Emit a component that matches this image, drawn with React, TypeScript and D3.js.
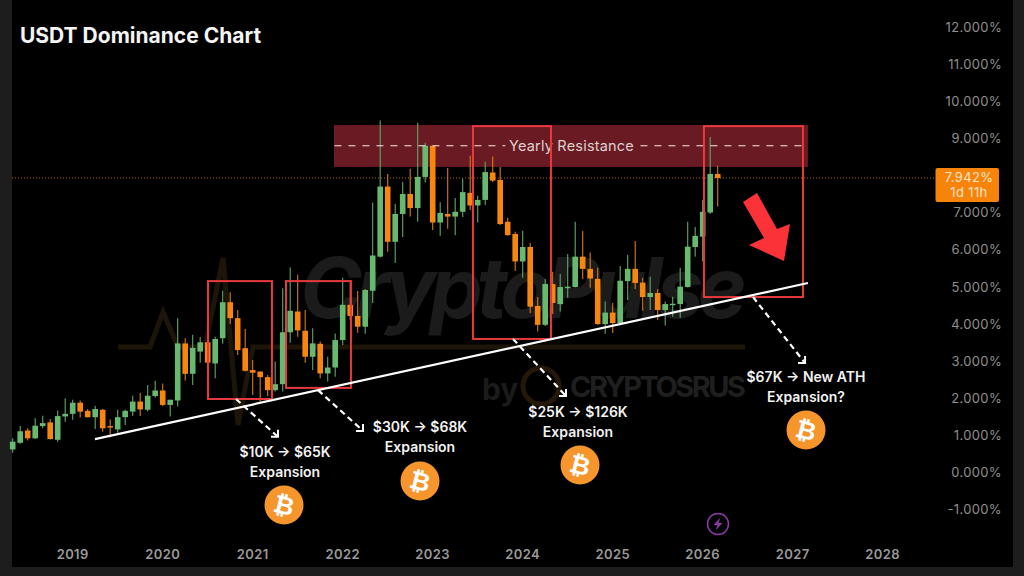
import { useEffect, useRef } from "react";
import * as d3 from "d3";

// monthly candles, first one is May 2018
const opens = [0.62, 0.8, 1.13, 0.92, 1.25, 1.35, 0.88, 1.51, 1.58, 1.88, 1.66, 1.49, 1.69, 1.25, 1.16, 1.49, 1.64, 1.91, 1.69, 2.06, 2.21, 1.82, 1.94, 3.48, 2.66, 3.26, 3.51, 2.94, 3.62, 4.59, 4.16, 3.35, 2.76, 2.72, 2.57, 2.22, 2.38, 3.78, 4.34, 3.82, 3.12, 3.47, 2.67, 2.83, 3.57, 4.52, 4.22, 3.93, 4.9, 5.82, 7.71, 6.22, 6.97, 7.51, 7.13, 7.97, 8.81, 6.74, 6.97, 6.9, 7.03, 7.54, 7.2, 7.35, 8.09, 7.89, 6.76, 6.43, 5.69, 6.08, 4.49, 3.98, 5.08, 4.54, 4.99, 5.0, 5.82, 5.49, 5.22, 4.0, 4.31, 4.03, 5.16, 5.49, 5.12, 4.73, 4.84, 4.38, 4.52, 4.54, 5.0, 6.08, 6.36, 7.01, 8.05];
const closes = [0.83, 1.11, 0.92, 1.26, 1.33, 0.9, 1.52, 1.58, 1.88, 1.64, 1.49, 1.71, 1.19, 1.22, 1.49, 1.66, 1.91, 1.7, 2.07, 2.21, 1.82, 1.96, 3.48, 2.66, 3.36, 3.51, 2.96, 3.6, 4.59, 4.16, 3.3, 2.74, 2.69, 2.57, 2.22, 2.38, 3.78, 4.36, 3.83, 3.12, 3.48, 2.67, 2.83, 3.57, 4.52, 4.22, 3.93, 4.92, 5.85, 7.71, 6.22, 6.97, 7.51, 7.13, 7.97, 8.81, 6.74, 7.0, 6.9, 7.03, 7.56, 7.2, 7.35, 8.1, 7.87, 6.7, 6.4, 5.69, 6.08, 4.47, 3.98, 5.08, 4.57, 5.0, 5.01, 5.82, 5.49, 5.23, 4.0, 4.31, 4.03, 5.17, 5.49, 5.11, 4.73, 4.84, 4.38, 4.54, 4.55, 5.01, 6.09, 6.38, 7.03, 8.05, 7.94];
const highs = [0.92, 1.25, 1.19, 1.46, 1.53, 1.44, 1.67, 2.0, 1.96, 1.94, 1.71, 1.8, 1.71, 1.43, 1.69, 1.7, 2.07, 2.14, 2.36, 2.47, 2.4, 1.96, 4.16, 3.62, 3.71, 3.65, 3.57, 3.66, 4.9, 4.86, 4.38, 3.87, 3.03, 2.72, 2.63, 2.99, 4.97, 5.53, 5.33, 4.38, 3.89, 3.53, 3.12, 3.75, 5.25, 5.19, 4.89, 4.95, 7.28, 9.49, 8.05, 7.24, 7.83, 8.19, 9.43, 8.89, 8.81, 7.29, 8.21, 7.4, 7.92, 8.54, 7.46, 8.38, 8.52, 8.24, 6.87, 6.49, 6.52, 6.19, 4.73, 5.22, 5.41, 5.35, 5.89, 6.76, 6.51, 5.93, 5.52, 4.61, 4.57, 5.57, 5.87, 6.24, 5.25, 5.28, 4.95, 4.61, 4.74, 5.52, 6.76, 6.62, 7.35, 9.05, 8.27];
const lows = [0.53, 0.77, 0.86, 0.9, 1.19, 0.89, 0.83, 1.37, 1.42, 1.48, 1.48, 1.17, 1.1, 0.94, 1.07, 1.28, 1.52, 1.52, 1.64, 2.02, 1.79, 1.51, 1.78, 2.48, 2.36, 2.96, 2.94, 2.54, 3.47, 4.0, 3.17, 2.72, 2.09, 1.91, 2.06, 2.18, 2.18, 3.5, 3.66, 2.96, 2.76, 2.54, 2.45, 2.58, 3.44, 4.11, 3.77, 3.74, 4.57, 5.8, 5.95, 5.65, 6.35, 6.9, 6.76, 7.82, 6.54, 6.38, 6.57, 6.4, 6.89, 7.08, 6.74, 7.21, 7.83, 6.67, 6.38, 5.43, 5.25, 4.3, 3.8, 3.95, 4.27, 4.34, 4.71, 4.99, 5.22, 4.98, 3.98, 3.74, 3.76, 4.02, 4.65, 4.95, 4.36, 4.38, 4.11, 3.96, 4.2, 4.17, 4.99, 5.82, 5.69, 6.97, 7.17];

const years = [2019, 2020, 2021, 2022, 2023, 2024, 2025, 2026, 2027, 2028];
const priceTicks = [12, 11, 10, 9, 7, 6, 5, 4, 3, 2, 1, 0, -1];
const lastPrice = 7.942;
const countdown = "1d 11h";
const resistance = [8.24, 9.37];
const resistanceLevel = 8.81;

const expansions = [
  { top: "$10K → $65K", bottom: "Expansion", cx: 285, y: 457, coinX: 284, coinY: 505 },
  { top: "$30K → $68K", bottom: "Expansion", cx: 420, y: 432, coinX: 420, coinY: 481 },
  { top: "$25K → $126K", bottom: "Expansion", cx: 578, y: 417, coinX: 580, coinY: 465 },
  { top: "$67K → New ATH", bottom: "Expansion?", cx: 806, y: 382, coinX: 806, coinY: 430 },
];

const FONT = "Inter, 'Noto Sans', sans-serif";
const GREEN = "#66b96f";
const ORANGE = "#f6860e";
const RED = "#e8393c";

export default function App() {
  const svgRef = useRef<SVGSVGElement | null>(null);

  useEffect(() => {
    if (!svgRef.current) return;
    const W = 1024, H = 576;
    const svg = d3.select(svgRef.current);
    svg.selectAll("*").remove();
    svg.attr("viewBox", `0 0 ${W} ${H}`).attr("width", W).attr("height", H);

    const x = d3.scaleLinear().domain([0, 94]).range([12.7, 717.7]);
    const y = d3.scaleLinear().domain([-1, 12]).range([509.5, 27.5]);
    const yearIndex = (yr: number) => (yr - 2018) * 12 - 4;

    svg.append("rect").attr("width", W).attr("height", H).attr("fill", "#1d1d1d");
    svg.append("rect").attr("x", 12).attr("y", 0).attr("width", 1001).attr("height", 567).attr("fill", "#000");

    // watermark
    const pulse = [[118, 347], [150, 347], [163, 312], [178, 347], [205, 347], [223, 258], [238, 425], [253, 347], [745, 347]] as [number, number][];
    svg.append("path").attr("d", d3.line()(pulse)).attr("fill", "none")
      .attr("stroke", "#1e1509").attr("stroke-width", 5);
    svg.append("text").attr("x", 300).attr("y", 318).attr("font-family", FONT)
      .attr("font-size", 84).attr("font-weight", 700).attr("font-style", "italic")
      .attr("textLength", 447).attr("fill", "#1b1b1b").text("CryptoPulse");
    svg.append("text").attr("x", 482).attr("y", 400).attr("font-family", FONT)
      .attr("font-size", 30).attr("font-weight", 700).attr("fill", "#1b1b1b").text("by");
    svg.append("circle").attr("cx", 541).attr("cy", 386).attr("r", 18).attr("fill", "none")
      .attr("stroke", "#241809").attr("stroke-width", 5);
    svg.append("text").attr("x", 570).attr("y", 397).attr("font-family", FONT)
      .attr("font-size", 29).attr("font-weight", 700).attr("textLength", 176)
      .attr("fill", "#1f1f1f").text("CRYPTOSRUS");

    // yearly resistance zone
    svg.append("rect").attr("x", x(42.84)).attr("width", x(106.03) - x(42.84))
      .attr("y", y(resistance[1])).attr("height", y(resistance[0]) - y(resistance[1]))
      .attr("fill", "#6a1a22");

    // current price line
    svg.append("line").attr("x1", 12).attr("x2", 934).attr("y1", y(lastPrice)).attr("y2", y(lastPrice))
      .attr("stroke", "#b3651b").attr("stroke-width", 1).attr("stroke-dasharray", "1,2");

    // candles
    const candles = svg.append("g").selectAll("g").data(opens.map((o, i) => i)).join("g");
    candles.append("line")
      .attr("x1", (i) => x(i)).attr("x2", (i) => x(i))
      .attr("y1", (i) => y(highs[i])).attr("y2", (i) => y(lows[i]))
      .attr("stroke", (i) => (closes[i] >= opens[i] ? "#5ea868" : "#d87a14")).attr("stroke-width", 1.1);
    candles.append("rect")
      .attr("x", (i) => x(i) - 2.8).attr("width", 5.6)
      .attr("y", (i) => y(Math.max(opens[i], closes[i])))
      .attr("height", (i) => Math.max(1.5, Math.abs(y(opens[i]) - y(closes[i]))))
      .attr("fill", (i) => (closes[i] >= opens[i] ? GREEN : ORANGE));

    // resistance dashes and label
    [[42.9, 65.7], [83.7, 106]].forEach(([a, b]) => {
      svg.append("line").attr("x1", x(a)).attr("x2", x(b))
        .attr("y1", y(resistanceLevel)).attr("y2", y(resistanceLevel))
        .attr("stroke", "#f4ecec").attr("stroke-width", 1).attr("stroke-dasharray", "7,7");
    });
    svg.append("text").attr("x", 571.5).attr("y", 151).attr("text-anchor", "middle")
      .attr("font-family", FONT).attr("font-size", 14.5).attr("letter-spacing", 0.2)
      .attr("fill", "#ddd0d0").text("Yearly Resistance");

    // cycle boxes
    const boxes = [
      [26.04, 34.57, 5.16, 1.98],
      [36.44, 45.1, 5.16, 2.28],
      [61.37, 71.77, 9.34, 3.6],
      [92.17, 105.37, 9.34, 4.73],
    ];
    boxes.forEach(([a, b, top, bottom]) => {
      svg.append("rect").attr("x", x(a)).attr("width", x(b) - x(a))
        .attr("y", y(top)).attr("height", y(bottom) - y(top))
        .attr("fill", "none").attr("stroke", RED).attr("stroke-width", 2);
    });

    // trend line
    svg.append("line").attr("x1", x(10.97)).attr("y1", y(0.9)).attr("x2", x(106.03)).attr("y2", y(5.11))
      .attr("stroke", "#fff").attr("stroke-width", 2.2);

    // dashed arrows
    const arrows = [
      [29.77, 1.98, 35.37, 0.96],
      [40.71, 2.22, 46.71, 1.12],
      [66.71, 3.6, 73.77, 2.06],
      [98.71, 4.73, 105.65, 2.95],
    ];
    arrows.forEach(([a, p, b, q]) => {
      svg.append("line").attr("x1", x(a)).attr("y1", y(p)).attr("x2", x(b)).attr("y2", y(q))
        .attr("stroke", "#fff").attr("stroke-width", 2.2).attr("stroke-dasharray", "6,4");
      svg.append("path")
        .attr("d", `M${x(b) - 7},${y(q)}L${x(b)},${y(q)}L${x(b)},${y(q) - 7}`)
        .attr("fill", "none").attr("stroke", "#fff").attr("stroke-width", 2);
    });

    // big red arrow
    svg.append("path").attr("d", "M743,202L757,193L777,229L790,224L784,261L749,245L764,238Z").attr("fill", "#fb3338");

    // expansion notes with coins
    expansions.forEach((e) => {
      svg.append("text").attr("x", e.cx).attr("y", e.y).attr("text-anchor", "middle")
        .attr("font-family", FONT).attr("font-size", 14).attr("font-weight", 600).attr("fill", "#f2f2f2").text(e.top);
      svg.append("text").attr("x", e.cx).attr("y", e.y + 20).attr("text-anchor", "middle")
        .attr("font-family", FONT).attr("font-size", 14).attr("font-weight", 600).attr("fill", "#f2f2f2").text(e.bottom);
      svg.append("circle").attr("cx", e.coinX).attr("cy", e.coinY).attr("r", 19.5).attr("fill", "#f5952b");
      svg.append("text").attr("x", e.coinX).attr("y", e.coinY + 9)
        .attr("transform", `rotate(14,${e.coinX},${e.coinY})`).attr("text-anchor", "middle")
        .attr("font-family", "'DejaVu Sans', sans-serif").attr("font-size", 25).attr("font-weight", 700)
        .attr("fill", "#fff").text("₿");
    });

    // title
    svg.append("text").attr("x", 20).attr("y", 43).attr("font-family", FONT)
      .attr("font-size", 21).attr("font-weight", 700).attr("fill", "#f5f5f5").text("USDT Dominance Chart");

    // price axis
    svg.append("g").selectAll("text").data(priceTicks).join("text")
      .attr("x", 1002).attr("y", (d) => y(d) + 4.5).attr("text-anchor", "end")
      .attr("font-family", FONT).attr("font-size", 13).attr("letter-spacing", 0.35).attr("fill", "#8f8f8f")
      .text((d) => `${d3.format(".3f")(d).replace("−", "-")}%`);

    // last price tag
    svg.append("rect").attr("x", 935.5).attr("y", 168).attr("width", 63.5).attr("height", 34).attr("rx", 2).attr("fill", "#f6840a");
    svg.append("text").attr("x", 969).attr("y", 182).attr("text-anchor", "middle").attr("font-family", FONT)
      .attr("font-size", 13).attr("letter-spacing", 0.35).attr("fill", "#fde3c6").text(`${lastPrice.toFixed(3)}%`);
    svg.append("text").attr("x", 969).attr("y", 197).attr("text-anchor", "middle").attr("font-family", FONT)
      .attr("font-size", 13).attr("letter-spacing", 0.35).attr("fill", "#fde3c6").text(countdown);

    // time axis
    svg.append("g").selectAll("text").data(years).join("text")
      .attr("x", (d) => x(yearIndex(d))).attr("y", 558.5).attr("text-anchor", "middle")
      .attr("font-family", FONT).attr("font-size", 13).attr("font-weight", 600).attr("letter-spacing", 0.4)
      .attr("fill", "#999").text((d) => String(d));

    // flash badge
    svg.append("circle").attr("cx", 718).attr("cy", 524).attr("r", 10.5)
      .attr("fill", "none").attr("stroke", "#8a3ba5").attr("stroke-width", 1.5);
    svg.append("path").attr("d", "M720.5,517.5L713.5,525L717.5,525L715.5,530.5L722.5,523L718.5,523Z").attr("fill", "#8a3ba5");
  }, []);

  return (
    <>
      <style>{"body{margin:0;background:#000}"}</style>
      <svg ref={svgRef} style={{ display: "block" }} />
    </>
  );
}
